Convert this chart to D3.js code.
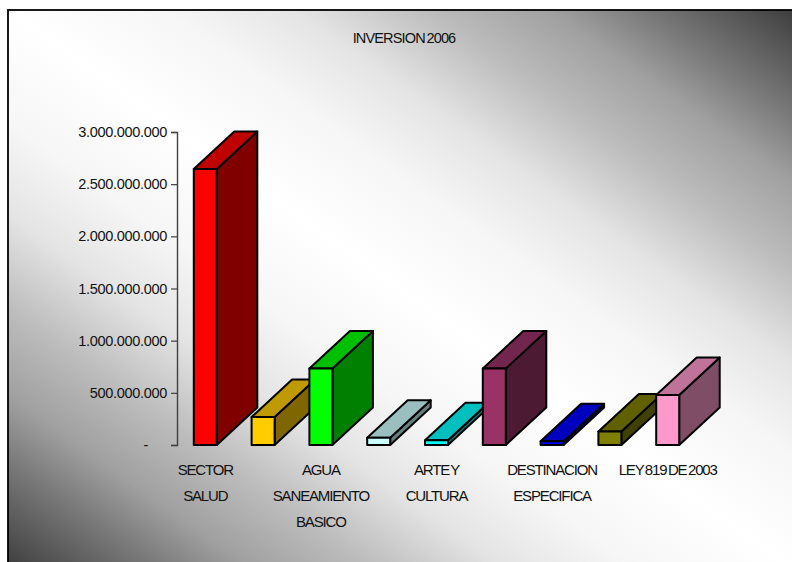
<!DOCTYPE html>
<html>
<head>
<meta charset="utf-8">
<script src="https://cdn.jsdelivr.net/npm/d3@7/dist/d3.min.js"></script>
<style>
html,body{margin:0;padding:0;background:#fff;overflow:hidden}
text{font-family:"Liberation Sans",Arial,sans-serif;fill:#111}
</style>
</head>
<body>
<div id="chart"></div>
<script>
const chartTitle = "INVERSION 2006";
const categories = ["SECTOR SALUD","Cat 2","AGUA SANEAMIENTO BASICO","Cat 4","ARTE Y CULTURA","Cat 6","DESTINACION ESPECIFICA","Cat 8","LEY 819 DE 2003"];
const values = [2645000000,268000000,733000000,70000000,45000000,733000000,35000000,130000000,480000000];
const labelLines = [["SECTOR","SALUD"],[],["AGUA","SANEAMIENTO","BASICO"],[],["ARTE Y","CULTURA"],[],["DESTINACION","ESPECIFICA"],[],["LEY 819 DE 2003"]];
const frontColors = ["#ff0000","#ffcc00","#00ff00","#ccffff","#00ffff","#993366","#0000ff","#808000","#ff99cc"];
const yTicks = [0,500000000,1000000000,1500000000,2000000000,2500000000,3000000000];

const W = 792, H = 562;
const svg = d3.select("#chart").append("svg").attr("width",W).attr("height",H).style("display","block");

const defs = svg.append("defs");
const grad = defs.append("linearGradient").attr("id","bg").attr("x1",0).attr("y1",1).attr("x2",1).attr("y2",0);
const half = [[0.5,"#ffffff"],[0.6,"#f6f6f6"],[0.68,"#e4e4e4"],[0.765,"#bcbcbc"],[0.84,"#a0a0a0"],[0.9,"#787878"],[0.965,"#505050"],[1,"#383838"]];
half.slice(1).reverse().forEach(s=>grad.append("stop").attr("offset",1-s[0]).attr("stop-color",s[1]));
half.forEach(s=>grad.append("stop").attr("offset",s[0]).attr("stop-color",s[1]));

svg.append("rect").attr("x",8).attr("y",10).attr("width",W+4).attr("height",H+4)
  .attr("fill","url(#bg)").attr("stroke","#000").attr("stroke-width",1.8);

svg.append("text").attr("x",404).attr("y",43).attr("text-anchor","middle")
  .style("font-size","14.5px").style("letter-spacing","-0.85px").style("word-spacing","-1.5px").text(chartTitle);

const y = d3.scaleLinear().domain([0,3000000000]).range([445,132]);
const x = d3.scaleBand().domain(categories).range([176.4,696.6]).paddingInner(0.602).paddingOuter(0.301);

const depthX = 40.5, depthY = -37.5;
const line = d3.line();

const yAxis = d3.axisLeft(y).tickValues(yTicks).tickSize(6).tickPadding(4)
  .tickFormat(d => d===0 ? "-" : d3.format(",")(d).replace(/,/g,"."));
const gAxis = svg.append("g").attr("transform","translate(177,0)").call(yAxis);
gAxis.select(".domain").attr("stroke","#404040").attr("stroke-width",1.4);
gAxis.selectAll(".tick line").attr("stroke","#404040").attr("stroke-width",1.2);
gAxis.selectAll(".tick text").style("font-size","14.5px").style("font-family",'"Liberation Sans"').style("letter-spacing","-0.3px").attr("fill","#111");
gAxis.selectAll(".tick text").filter(d=>d===0).attr("dx",-19);

const bars = svg.append("g").selectAll("g").data(categories).join("g");
bars.each(function(c,i){
  const g = d3.select(this);
  const x0 = x(c), x1 = x0 + x.bandwidth(), y0 = y(0), yt = y(values[i]);
  const base = d3.color(frontColors[i]);
  const top = d3.rgb(base.r*0.75, base.g*0.75, base.b*0.75);
  const side = d3.rgb(base.r*0.5, base.g*0.5, base.b*0.5);
  const face = (pts,fill)=>g.append("path").attr("d",line(pts)+"Z").attr("fill",fill)
    .attr("stroke","#000").attr("stroke-width",2).attr("stroke-linejoin","round");
  face([[x1,y0],[x1+depthX,y0+depthY],[x1+depthX,yt+depthY],[x1,yt]], side);
  face([[x0,yt],[x1,yt],[x1+depthX,yt+depthY],[x0+depthX,yt+depthY]], top);
  face([[x0,y0],[x1,y0],[x1,yt],[x0,yt]], frontColors[i]);
});

const labels = svg.append("g").selectAll("text").data(categories).join("text")
  .attr("text-anchor","middle").style("font-size","15px").style("letter-spacing","-1.15px").style("word-spacing","-1.5px");
labels.each(function(c,i){
  d3.select(this).selectAll("tspan").data(labelLines[i]).join("tspan")
    .attr("x",x(c)+x.bandwidth()/2).attr("y",(d,k)=>474.5+k*26).text(d=>d);
});
</script>
</body>
</html>
